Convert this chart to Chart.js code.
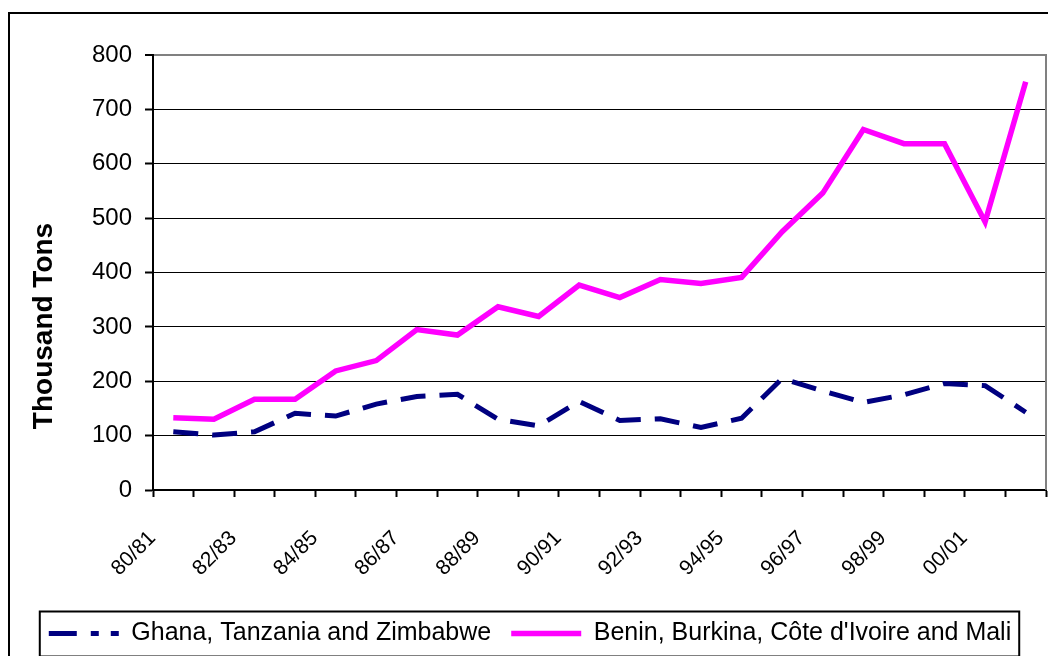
<!DOCTYPE html>
<html>
<head>
<meta charset="utf-8">
<title>Cotton production</title>
<script src="https://cdn.jsdelivr.net/npm/chart.js@4.4.1/dist/chart.umd.min.js"></script>
<style>
  html, body { margin: 0; padding: 0; background: #fff; }
  canvas { display: block; }
</style>
</head>
<body>
<canvas id="chart" width="1048" height="656"></canvas>
<script>
'use strict';

/* ── Data ───────────────────────────────────────────────────────────────── */
const seasons = [
  '80/81', '81/82', '82/83', '83/84', '84/85', '85/86', '86/87', '87/88',
  '88/89', '89/90', '90/91', '91/92', '92/93', '93/94', '94/95', '95/96',
  '96/97', '97/98', '98/99', '99/00', '00/01', '01/02'
];
const ghanaTanzaniaZimbabwe = [
  107, 101, 107, 141, 136, 158, 172, 176, 130, 118, 163,
  128, 131, 115, 132, 205, 182, 161, 175, 196, 192, 143
];
const beninBurkinaCiMali = [
  133, 130, 167, 167, 219, 238, 295, 285, 337, 319, 377,
  354, 387, 380, 391, 475, 546, 663, 637, 637, 493, 751
];
const yTicks = [0, 100, 200, 300, 400, 500, 600, 700, 800];
const seriesNames = ['Ghana, Tanzania and Zimbabwe', "Benin, Burkina, Côte d'Ivoire and Mali"];
const yAxisTitle = 'Thousand Tons';

const FONT = 'Arial, "Liberation Sans", sans-serif';
Chart.defaults.font.family = FONT;
Chart.defaults.color = '#000';

// chart area edges
const PAD_LEFT = 14;
const AREA_LEFT = 153;
const AREA_BOTTOM = 490;
const PAD_BOTTOM = 0;

/* ── Decorations: outer frame, plot border, axis title, legend box ──────── */
const decor = {
  id: 'decor',
  afterDraw(chart) {
    const { ctx, chartArea: a } = chart;
    ctx.save();

    // outer frame (runs off the right/bottom like the original)
    ctx.strokeStyle = '#000';
    ctx.lineWidth = 2;
    ctx.strokeRect(9, 13, 1100, 700);

    // right side of plot area, grey
    ctx.strokeStyle = '#808080';
    ctx.beginPath();
    ctx.moveTo(a.right, a.top - 1);
    ctx.lineTo(a.right, a.bottom);
    ctx.stroke();

    // y axis title
    ctx.fillStyle = '#000';
    ctx.font = 'bold 28px ' + FONT;
    ctx.textAlign = 'center';
    ctx.textBaseline = 'middle';
    ctx.translate(44, 326);
    ctx.rotate(-Math.PI / 2);
    ctx.fillText(yAxisTitle, 0, 0);
    ctx.restore();

    // legend frame
    const boxes = chart.legend.legendHitBoxes;
    if (boxes && boxes.length) {
      const l = Math.min(...boxes.map(b => b.left)) - 9;
      const r = Math.max(...boxes.map(b => b.left + b.width)) + 8;
      const cy = boxes[0].top + boxes[0].height / 2;
      ctx.save();
      ctx.strokeStyle = '#000';
      ctx.lineWidth = 2;
      ctx.strokeRect(l, cy - 22, r - l, 45);
      ctx.restore();
    }
  }
};

/* ── Chart ──────────────────────────────────────────────────────────────── */
new Chart(document.getElementById('chart'), {
  type: 'line',
  data: {
    labels: seasons,
    datasets: [
      {
        label: seriesNames[0],
        data: ghanaTanzaniaZimbabwe,
        borderColor: '#000080',
        backgroundColor: '#000080',
        borderWidth: 5,
        borderDash: [25, 14],
        pointRadius: 0,
        tension: 0,
        fill: false
      },
      {
        label: seriesNames[1],
        data: beninBurkinaCiMali,
        borderColor: '#FF00FF',
        backgroundColor: '#FF00FF',
        borderWidth: 5.5,
        pointRadius: 0,
        tension: 0,
        fill: false
      }
    ]
  },
  options: {
    responsive: false,
    animation: false,
    devicePixelRatio: 1,
    layout: { padding: { top: 55, right: 2, bottom: PAD_BOTTOM, left: PAD_LEFT } },
    plugins: {
      tooltip: { enabled: false },
      title: { display: false },
      legend: {
        position: 'bottom',
        labels: {
          usePointStyle: true,
          pointStyle: 'line',
          pointStyleWidth: 70,
          padding: 20,
          color: '#000',
          font: { size: 25 },
          generateLabels(chart) {
            const items = Chart.defaults.plugins.legend.labels.generateLabels(chart);
            items[0].lineDash = [28, 14, 8, 12];
            return items;
          }
        }
      }
    },
    scales: {
      x: {
        type: 'category',
        offset: true,
        grid: {
          offset: true,
          drawOnChartArea: false,
          drawTicks: true,
          tickLength: 7,
          tickWidth: 2,
          tickColor: '#000'
        },
        border: { color: '#000', width: 2 },
        ticks: {
          autoSkip: false,
          minRotation: 45,
          maxRotation: 45,
          padding: 29,
          labelOffset: -21,
          color: '#000',
          font: { size: 21 },
          callback: (v, i) => (i % 2 === 0 ? seasons[i] : '')
        },
        afterFit(scale) {
          scale.height = scale.chart.height - AREA_BOTTOM - scale.chart.legend.height - PAD_BOTTOM;
          // keep the plot area spanning the full width
          scale.paddingLeft = 0;
          scale.paddingRight = 0;
        }
      },
      y: {
        min: yTicks[0],
        max: yTicks[yTicks.length - 1],
        afterBuildTicks(scale) {
          scale.ticks = yTicks.map(v => ({ value: v }));
        },
        grid: {
          color: c => (c.tick && c.tick.value === 800 ? '#808080' : '#000'),
          lineWidth: c => (c.tick && c.tick.value === 800 ? 2 : 1),
          tickColor: '#000',
          tickLength: 8,
          tickWidth: 2
        },
        border: { color: '#000', width: 2 },
        ticks: {
          padding: 13,
          color: '#000',
          font: { size: 24 }
        },
        afterFit(scale) {
          scale.width = AREA_LEFT - PAD_LEFT;
        }
      }
    }
  },
  plugins: [decor]
});
</script>
</body>
</html>
